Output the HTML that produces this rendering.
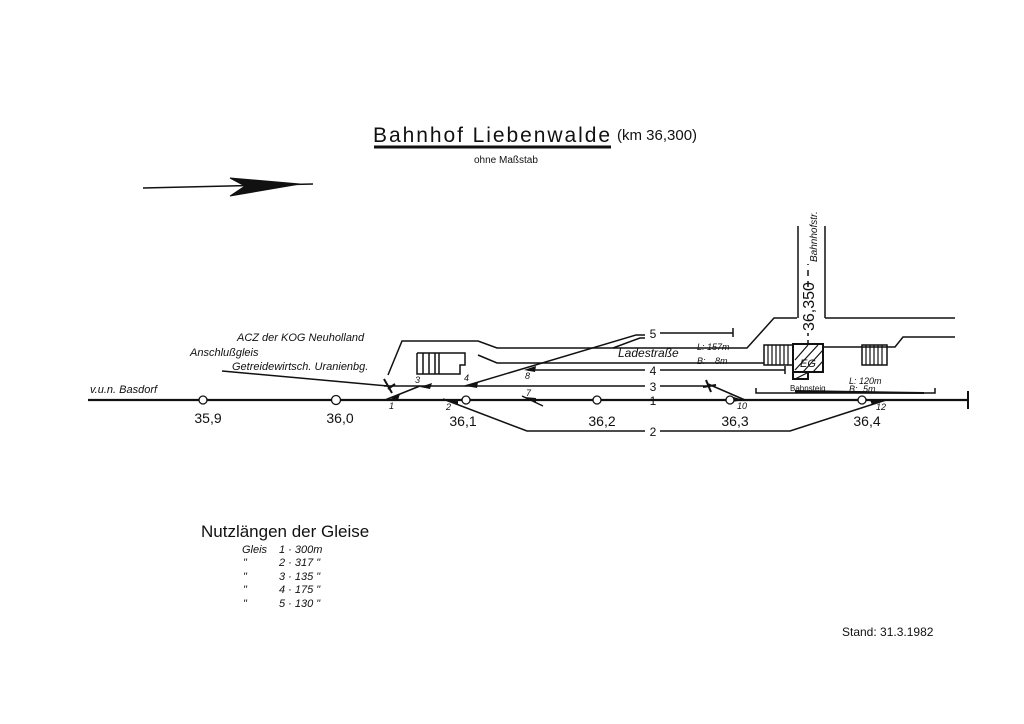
<!DOCTYPE html>
<html><head><meta charset="utf-8"><style>
html,body{margin:0;padding:0;background:#fff}
svg{display:block}
text{font-family:"Liberation Sans","DejaVu Sans",sans-serif;fill:#111}
.i{font-style:italic}
</style></head><body>
<svg width="1024" height="724" viewBox="0 0 1024 724" xmlns="http://www.w3.org/2000/svg">
<g stroke="#111" fill="none" stroke-width="1.5">
<line x1="374" y1="147" x2="611" y2="147" stroke-width="3"/>
<line x1="143" y1="188" x2="313" y2="184"/>
<polygon points="230,178 300,184 230,196 245,186" fill="#111" stroke-width="1"/>
<line x1="88" y1="400" x2="968" y2="400" stroke-width="2.2"/>
<line x1="968" y1="391" x2="968" y2="409" stroke-width="2"/>
<line x1="384" y1="386" x2="645" y2="386"/>
<line x1="660" y1="386" x2="710" y2="386"/>
<line x1="708" y1="384" x2="745" y2="400"/>
<line x1="385" y1="400" x2="420" y2="386"/>
<line x1="222" y1="371" x2="388" y2="386"/>
<polyline points="443,399 527,431 645,431"/>
<polyline points="660,431 790,431 886,400"/>
<line x1="522" y1="396" x2="543" y2="406"/>
<line x1="528" y1="370" x2="645" y2="370"/>
<line x1="660" y1="370" x2="785" y2="370"/>
<line x1="785" y1="366" x2="785" y2="374"/>
<polyline points="465,386 636,335 645,335"/>
<polyline points="613,348 640,338 645,338"/>
<line x1="660" y1="333" x2="733" y2="333"/>
<line x1="733" y1="328" x2="733" y2="337"/>
<polyline points="388,375 402,341 478,341 497,348 747,348 774,318 797,318"/>
<polyline points="478,355 497,363 764,363"/>
<line x1="798" y1="226" x2="798" y2="318"/>
<line x1="825" y1="226" x2="825" y2="318"/>
<line x1="825" y1="318" x2="955" y2="318"/>
<polyline points="822,347 895,347 903,337 955,337"/>
<polyline points="417,353 465,353 465,365 460,365 460,374 417,374 417,353"/>
<line x1="423" y1="353" x2="423" y2="374"/><line x1="429" y1="353" x2="429" y2="374"/><line x1="435" y1="353" x2="435" y2="374"/><line x1="439" y1="353" x2="439" y2="374"/>
<rect x="764" y="345" width="29" height="20"/>
<rect x="862" y="345" width="25" height="20"/>
<rect x="793" y="344" width="30" height="28" stroke-width="2"/>
<rect x="793" y="372" width="15" height="7" stroke-width="2"/>
<line x1="808" y1="344" x2="808" y2="333" stroke-dasharray="4,4"/>
<line x1="808" y1="287" x2="808" y2="264" stroke-dasharray="6,5"/>
<polyline points="756,388 756,393 935,393 935,388"/>
</g>
<g stroke="#111" stroke-width="1.2">
<line x1="768" y1="345" x2="768" y2="365"/><line x1="772" y1="345" x2="772" y2="365"/><line x1="776" y1="345" x2="776" y2="365"/><line x1="780" y1="345" x2="780" y2="365"/><line x1="784" y1="345" x2="784" y2="365"/><line x1="788" y1="345" x2="788" y2="365"/>
<line x1="866" y1="345" x2="866" y2="365"/><line x1="870" y1="345" x2="870" y2="365"/><line x1="874" y1="345" x2="874" y2="365"/><line x1="878" y1="345" x2="878" y2="365"/><line x1="882" y1="345" x2="882" y2="365"/>
<line x1="795" y1="360" x2="808" y2="345"/><line x1="795" y1="370" x2="818" y2="345"/><line x1="803" y1="372" x2="823" y2="350"/><line x1="813" y1="372" x2="823" y2="361"/><line x1="795" y1="379" x2="807" y2="373"/>
</g>
<g fill="#111">
<polygon points="388,398 400,394 398,400"/><polygon points="420,387 432,383 430,389"/>
<polygon points="466,386 478,382 477,388"/><polygon points="524,370 536,366 535,372"/>
<polygon points="446,400 458,405 458,400"/><polygon points="524,397 536,403 536,398"/>
<polygon points="730,396 744,400 732,402"/><polygon points="870,400 884,400 872,405"/>
<polygon points="795,390 924,392 924,394 795,393"/>
</g>
<g stroke="#111" stroke-width="2"><line x1="384" y1="379" x2="392" y2="393"/><line x1="388" y1="389" x2="395" y2="384"/>
<line x1="706" y1="380" x2="711" y2="392"/><line x1="703" y1="387" x2="716" y2="385"/></g>
<g fill="#fff" stroke="#111" stroke-width="1.3">
<circle cx="203" cy="400" r="4"/><circle cx="336" cy="400" r="4.5"/><circle cx="466" cy="400" r="4"/><circle cx="597" cy="400" r="4"/><circle cx="730" cy="400" r="4"/><circle cx="862" cy="400" r="4"/>
</g>
<g font-size="12" text-anchor="middle">
<text x="653" y="338">5</text><text x="653" y="375">4</text><text x="653" y="391">3</text><text x="653" y="405">1</text><text x="653" y="436">2</text>
</g>
<g font-size="14" text-anchor="middle">
<text x="208" y="423">35,9</text><text x="340" y="423">36,0</text><text x="463" y="426">36,1</text><text x="602" y="426">36,2</text><text x="735" y="426">36,3</text><text x="867" y="426">36,4</text>
</g>
<g class="i" font-size="9">
<text x="389" y="409">1</text><text x="446" y="410">2</text><text x="415" y="383">3</text><text x="464" y="381">4</text><text x="525" y="379">8</text><text x="526" y="396">7</text><text x="737" y="409">10</text><text x="876" y="410">12</text>
</g>
<g class="i" font-size="11">
<text x="237" y="341">ACZ der KOG Neuholland</text>
<text x="190" y="356">Anschlußgleis</text>
<text x="232" y="370">Getreidewirtsch. Uranienbg.</text>
<text x="90" y="393">v.u.n. Basdorf</text>
<text x="618" y="357" font-size="12">Ladestraße</text>
<text x="697" y="350" font-size="9">L: 157m</text>
<text x="697" y="364" font-size="9">B:</text><text x="715" y="364" font-size="9">8m</text>
<text x="849" y="384" font-size="9">L: 120m</text>
<text x="849" y="392" font-size="9">B:</text><text x="863" y="392" font-size="9">5m</text>
<text x="0" y="0" font-size="10" transform="translate(817,262) rotate(-90)">Bahnhofstr.</text>
</g>
<text x="790" y="391" font-size="8">Bahnsteig</text>
<text x="800" y="367" font-size="11" font-style="italic">EG</text>
<text x="0" y="0" font-size="16" transform="translate(814,331) rotate(-90)">36,350</text>
<text x="373" y="142" font-size="21" textLength="237" lengthAdjust="spacing">Bahnhof  Liebenwalde</text>
<text x="617" y="140" font-size="15">(km 36,300)</text>
<text x="474" y="163" font-size="10">ohne  Maßstab</text>
<text x="201" y="537" font-size="17">Nutzlängen der Gleise</text>
<g class="i" font-size="11">
<text x="242" y="553">Gleis</text><text x="279" y="553">1 · 300m</text>
<text x="243" y="566">"</text><text x="279" y="566">2 · 317 "</text>
<text x="243" y="580">"</text><text x="279" y="580">3 · 135 "</text>
<text x="243" y="593">"</text><text x="279" y="593">4 · 175 "</text>
<text x="243" y="607">"</text><text x="279" y="607">5 · 130 "</text>
</g>
<text x="842" y="636" font-size="12">Stand: 31.3.1982</text>
</svg>
</body></html>
